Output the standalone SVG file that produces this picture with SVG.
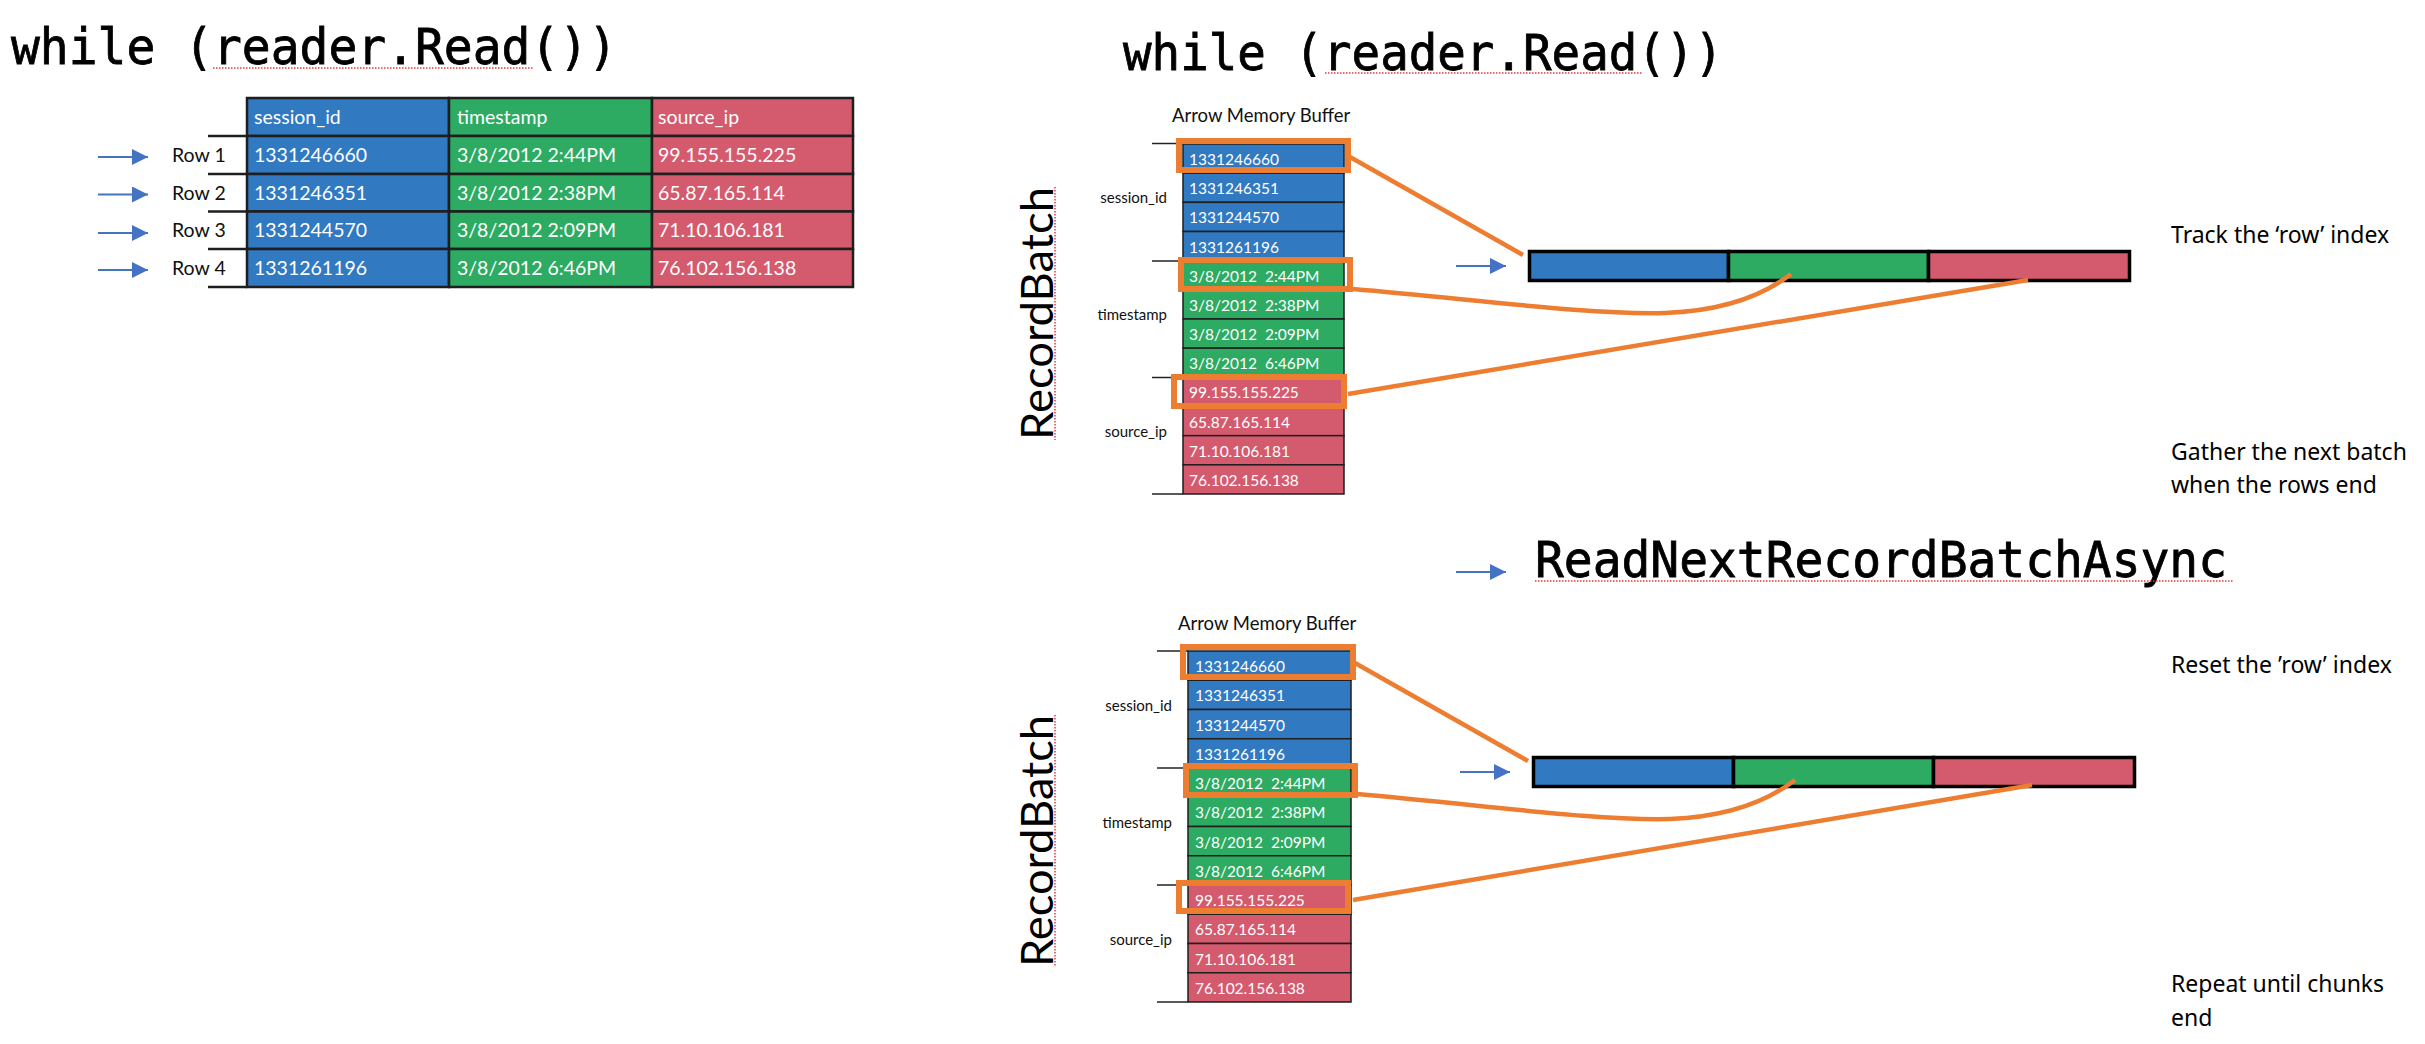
<svg xmlns="http://www.w3.org/2000/svg" width="2425" height="1044" viewBox="0 0 2425 1044">
<style>
  .code { font-family: "DejaVu Sans Mono", "Liberation Mono", monospace; font-size: 49px; fill: #000; stroke: #000; stroke-width: 0.8; }
  .cell { font-family: Lato, "Liberation Sans", sans-serif; fill: #fff; }
  .big { font-size: 19.5px; }
  .small { font-size: 15.5px; }
  .lbl { font-family: Lato, "Liberation Sans", sans-serif; fill: #111; }
  .note { font-family: "Noto Sans", "Open Sans", sans-serif; font-size: 23px; fill: #000; }
  .rb { font-family: Lato, "Liberation Sans", sans-serif; font-size: 45px; fill: #000; }
  .b { fill: #3179C1; }
  .g { fill: #2DAB62; }
  .r { fill: #D45A6E; }
  .tb { stroke: #1e1e1e; stroke-width: 2.5; }
  .cb { stroke: #1e1e1e; stroke-width: 1.5; }
  .tick { stroke: #222; stroke-width: 1.5; }
  .hl { fill: none; stroke: #ED7D31; stroke-width: 6; }
  .bar { stroke: #000; stroke-width: 3.5; }
  .con { fill: none; stroke: #ED7D31; stroke-width: 4.5; }
  .arr { stroke: #4472C4; stroke-width: 2; }
  .sq { fill: none; stroke: #e83a3a; stroke-width: 1.5; stroke-dasharray: 1.5 1.5; }
</style>
<defs>
  <marker id="ah" markerUnits="userSpaceOnUse" markerWidth="16" markerHeight="16" refX="16" refY="8" orient="auto">
    <path d="M0,0 L16,8 L0,16 z" fill="#4472C4"/>
  </marker>
</defs>
<rect width="2425" height="1044" fill="#fff"/>

<!-- Left: row-wise reading -->
<g id="title-left">
  <text class="code" x="11" y="64" textLength="606" lengthAdjust="spacingAndGlyphs">while (reader.Read())</text>
  <line class="sq" x1="213" y1="68" x2="534" y2="68"/>
</g>

<g id="row-table">
  <rect class="b tb" x="247" y="98" width="202" height="38"/>
  <rect class="g tb" x="449" y="98" width="203" height="38"/>
  <rect class="r tb" x="652" y="98" width="201" height="38"/>
  <rect class="b tb" x="247" y="136" width="202" height="38"/>
  <rect class="g tb" x="449" y="136" width="203" height="38"/>
  <rect class="r tb" x="652" y="136" width="201" height="38"/>
  <rect class="b tb" x="247" y="174" width="202" height="37.5"/>
  <rect class="g tb" x="449" y="174" width="203" height="37.5"/>
  <rect class="r tb" x="652" y="174" width="201" height="37.5"/>
  <rect class="b tb" x="247" y="211.5" width="202" height="37.5"/>
  <rect class="g tb" x="449" y="211.5" width="203" height="37.5"/>
  <rect class="r tb" x="652" y="211.5" width="201" height="37.5"/>
  <rect class="b tb" x="247" y="249" width="202" height="38"/>
  <rect class="g tb" x="449" y="249" width="203" height="38"/>
  <rect class="r tb" x="652" y="249" width="201" height="38"/>
  <g class="tb">
    <line x1="208" y1="136" x2="247" y2="136"/>
    <line x1="208" y1="174" x2="247" y2="174"/>
    <line x1="208" y1="211.5" x2="247" y2="211.5"/>
    <line x1="208" y1="249" x2="247" y2="249"/>
    <line x1="208" y1="287" x2="247" y2="287"/>
  </g>
  <g class="cell big">
    <text x="254" y="124">session_id</text>
    <text x="457" y="124">timestamp</text>
    <text x="658" y="124">source_ip</text>
    <text x="254" y="162">1331246660</text>
    <text x="457" y="162">3/8/2012 2:44PM</text>
    <text x="658" y="162">99.155.155.225</text>
    <text x="254" y="199.5">1331246351</text>
    <text x="457" y="199.5">3/8/2012 2:38PM</text>
    <text x="658" y="199.5">65.87.165.114</text>
    <text x="254" y="237">1331244570</text>
    <text x="457" y="237">3/8/2012 2:09PM</text>
    <text x="658" y="237">71.10.106.181</text>
    <text x="254" y="275">1331261196</text>
    <text x="457" y="275">3/8/2012 6:46PM</text>
    <text x="658" y="275">76.102.156.138</text>
  </g>
  <g class="lbl" font-size="19.5">
    <text x="172" y="162">Row 1</text>
    <text x="172" y="199.5">Row 2</text>
    <text x="172" y="237">Row 3</text>
    <text x="172" y="275">Row 4</text>
  </g>
</g>

<!-- Right top -->
<g id="title-right">
  <text class="code" x="1123" y="70" textLength="600" lengthAdjust="spacingAndGlyphs">while (reader.Read())</text>
  <line class="sq" x1="1325" y1="73" x2="1643" y2="73"/>
</g>

<g id="batch-1">
  <text class="lbl" x="1172" y="122" font-size="18.5">Arrow Memory Buffer</text>
  <text class="rb" transform="translate(1053,313.5) rotate(-90)" text-anchor="middle" textLength="253" lengthAdjust="spacingAndGlyphs">RecordBatch</text>
  <line class="sq" x1="1055" y1="187" x2="1055" y2="440"/>
  <g class="tick">
    <line x1="1152" y1="143.5" x2="1183" y2="143.5"/>
    <line x1="1152" y1="261" x2="1183" y2="261"/>
    <line x1="1152" y1="377.5" x2="1183" y2="377.5"/>
    <line x1="1152" y1="494" x2="1183" y2="494"/>
  </g>
  <g class="lbl" font-size="15" text-anchor="end">
    <text x="1167" y="203">session_id</text>
    <text x="1167" y="320">timestamp</text>
    <text x="1167" y="437">source_ip</text>
  </g>
  <rect class="b cb" x="1183" y="144" width="161" height="29.17"/>
  <rect class="b cb" x="1183" y="173.17" width="161" height="29.17"/>
  <rect class="b cb" x="1183" y="202.33" width="161" height="29.17"/>
  <rect class="b cb" x="1183" y="231.5" width="161" height="29.17"/>
  <rect class="g cb" x="1183" y="260.67" width="161" height="29.17"/>
  <rect class="g cb" x="1183" y="289.83" width="161" height="29.17"/>
  <rect class="g cb" x="1183" y="319" width="161" height="29.17"/>
  <rect class="g cb" x="1183" y="348.17" width="161" height="29.17"/>
  <rect class="r cb" x="1183" y="377.33" width="161" height="29.17"/>
  <rect class="r cb" x="1183" y="406.5" width="161" height="29.17"/>
  <rect class="r cb" x="1183" y="435.67" width="161" height="29.17"/>
  <rect class="r cb" x="1183" y="464.83" width="161" height="29.17"/>
  <g class="cell small">
    <text x="1189" y="165">1331246660</text>
    <text x="1189" y="194.2">1331246351</text>
    <text x="1189" y="223.3">1331244570</text>
    <text x="1189" y="252.5">1331261196</text>
    <text x="1189" y="281.7">3/8/2012&#160; 2:44PM</text>
    <text x="1189" y="310.8">3/8/2012&#160; 2:38PM</text>
    <text x="1189" y="340">3/8/2012&#160; 2:09PM</text>
    <text x="1189" y="369.2">3/8/2012&#160; 6:46PM</text>
    <text x="1189" y="398.3">99.155.155.225</text>
    <text x="1189" y="427.5">65.87.165.114</text>
    <text x="1189" y="456.7">71.10.106.181</text>
    <text x="1189" y="485.8">76.102.156.138</text>
  </g>
  <rect class="hl" x="1179" y="141" width="169" height="29"/>
  <rect class="hl" x="1181" y="260" width="169" height="29"/>
  <rect class="hl" x="1174" y="377" width="170" height="29"/>
</g>

<g id="record-bar-1">
  <rect class="b bar" x="1529.5" y="251.5" width="199" height="29"/>
  <rect class="g bar" x="1728.5" y="251.5" width="200" height="29"/>
  <rect class="r bar" x="1928.5" y="251.5" width="201" height="29"/>
</g>

<g id="notes-1">
  <text class="note" x="2171" y="243">Track the ‘row’ index</text>
  <text class="note" x="2171" y="460">Gather the next batch</text>
  <text class="note" x="2171" y="493">when the rows end</text>
</g>

<g id="next-call">
  <text class="code" x="1535" y="577" textLength="692" lengthAdjust="spacingAndGlyphs">ReadNextRecordBatchAsync</text>
  <line class="sq" x1="1535" y1="581" x2="2234" y2="581"/>
</g>

<!-- Right bottom -->
<g id="batch-2">
  <text class="lbl" x="1178" y="630" font-size="18.5">Arrow Memory Buffer</text>
  <text class="rb" transform="translate(1053,841) rotate(-90)" text-anchor="middle" textLength="252" lengthAdjust="spacingAndGlyphs">RecordBatch</text>
  <line class="sq" x1="1055" y1="715" x2="1055" y2="967"/>
  <g class="tick">
    <line x1="1157" y1="651" x2="1188" y2="651"/>
    <line x1="1157" y1="768" x2="1188" y2="768"/>
    <line x1="1157" y1="885" x2="1188" y2="885"/>
    <line x1="1157" y1="1002" x2="1188" y2="1002"/>
  </g>
  <g class="lbl" font-size="15" text-anchor="end">
    <text x="1172" y="711">session_id</text>
    <text x="1172" y="828">timestamp</text>
    <text x="1172" y="945">source_ip</text>
  </g>
  <rect class="b cb" x="1188" y="651" width="163" height="29.25"/>
  <rect class="b cb" x="1188" y="680.25" width="163" height="29.25"/>
  <rect class="b cb" x="1188" y="709.5" width="163" height="29.25"/>
  <rect class="b cb" x="1188" y="738.75" width="163" height="29.25"/>
  <rect class="g cb" x="1188" y="768" width="163" height="29.25"/>
  <rect class="g cb" x="1188" y="797.25" width="163" height="29.25"/>
  <rect class="g cb" x="1188" y="826.5" width="163" height="29.25"/>
  <rect class="g cb" x="1188" y="855.75" width="163" height="29.25"/>
  <rect class="r cb" x="1188" y="885" width="163" height="29.25"/>
  <rect class="r cb" x="1188" y="914.25" width="163" height="29.25"/>
  <rect class="r cb" x="1188" y="943.5" width="163" height="29.25"/>
  <rect class="r cb" x="1188" y="972.75" width="163" height="29.25"/>
  <g class="cell small">
    <text x="1195" y="672">1331246660</text>
    <text x="1195" y="701.25">1331246351</text>
    <text x="1195" y="730.5">1331244570</text>
    <text x="1195" y="759.75">1331261196</text>
    <text x="1195" y="789">3/8/2012&#160; 2:44PM</text>
    <text x="1195" y="818.25">3/8/2012&#160; 2:38PM</text>
    <text x="1195" y="847.5">3/8/2012&#160; 2:09PM</text>
    <text x="1195" y="876.75">3/8/2012&#160; 6:46PM</text>
    <text x="1195" y="906">99.155.155.225</text>
    <text x="1195" y="935.25">65.87.165.114</text>
    <text x="1195" y="964.5">71.10.106.181</text>
    <text x="1195" y="993.75">76.102.156.138</text>
  </g>
  <rect class="hl" x="1183" y="647" width="170" height="30"/>
  <rect class="hl" x="1186" y="766" width="169" height="29"/>
  <rect class="hl" x="1179" y="883" width="169" height="28"/>
</g>

<g id="record-bar-2">
  <rect class="b bar" x="1533.5" y="757.5" width="200" height="29"/>
  <rect class="g bar" x="1733.5" y="757.5" width="200" height="29"/>
  <rect class="r bar" x="1933.5" y="757.5" width="201" height="29"/>
</g>

<g id="notes-2">
  <text class="note" x="2171" y="673">Reset the ’row’ index</text>
  <text class="note" x="2171" y="992">Repeat until chunks</text>
  <text class="note" x="2171" y="1026">end</text>
</g>

<!-- Connectors -->
<g id="connectors">
  <g class="arr" marker-end="url(#ah)">
    <line x1="98" y1="157" x2="148" y2="157"/>
    <line x1="98" y1="194.5" x2="148" y2="194.5"/>
    <line x1="98" y1="233" x2="148" y2="233"/>
    <line x1="98" y1="270" x2="148" y2="270"/>
    <line x1="1456" y1="266" x2="1506" y2="266"/>
    <line x1="1456" y1="572" x2="1506" y2="572"/>
    <line x1="1460" y1="772" x2="1510" y2="772"/>
  </g>
  <path class="con" d="M1350,157 L1523,255"/>
  <path class="con" d="M1353,289 C1480,300 1590,315 1665,313 C1720,311 1760,298 1791,274"/>
  <path class="con" d="M1348,394 L2028,280"/>
  <path class="con" d="M1355,663 L1528,761"/>
  <path class="con" d="M1357,794 C1485,805 1595,821 1670,819 C1725,817 1765,803 1795,780"/>
  <path class="con" d="M1353,900 L2032,785"/>
</g>
</svg>
